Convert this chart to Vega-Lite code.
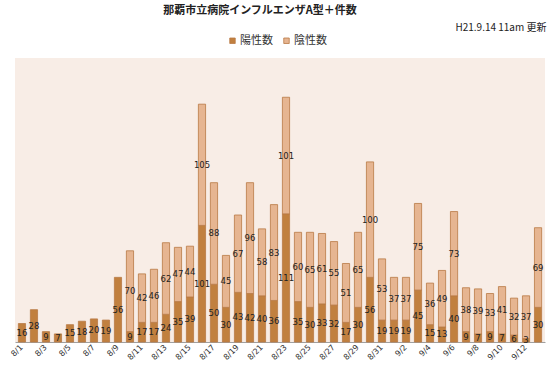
{
  "$schema": "https://vega.github.io/schema/vega-lite/v6.json",
  "width": 530,
  "height": 284,
  "autosize": "none",
  "padding": {"left": 15, "top": 58, "right": 5, "bottom": 30},
  "background": "#ffffff",
  "title": {
    "text": "那覇市立病院インフルエンザA型＋件数",
    "font": "Noto Sans CJK JP",
    "fontSize": 11,
    "fontWeight": "bold",
    "color": "#222222",
    "anchor": "middle",
    "frame": "group",
    "dx": -20,
    "offset": 6
  },
  "config": {
    "view": {"fill": "#F8EDE6", "stroke": null},
    "font": "DejaVu Sans"
  },
  "data": {
    "values": [
      {"date": "8/1", "type": "陽性数", "count": 16},
      {"date": "8/2", "type": "陽性数", "count": 28},
      {"date": "8/3", "type": "陽性数", "count": 9},
      {"date": "8/4", "type": "陽性数", "count": 7},
      {"date": "8/5", "type": "陽性数", "count": 15},
      {"date": "8/6", "type": "陽性数", "count": 18},
      {"date": "8/7", "type": "陽性数", "count": 20},
      {"date": "8/8", "type": "陽性数", "count": 19},
      {"date": "8/9", "type": "陽性数", "count": 56},
      {"date": "8/10", "type": "陽性数", "count": 9},
      {"date": "8/10", "type": "陰性数", "count": 70},
      {"date": "8/11", "type": "陽性数", "count": 17},
      {"date": "8/11", "type": "陰性数", "count": 42},
      {"date": "8/12", "type": "陽性数", "count": 17},
      {"date": "8/12", "type": "陰性数", "count": 46},
      {"date": "8/13", "type": "陽性数", "count": 24},
      {"date": "8/13", "type": "陰性数", "count": 62},
      {"date": "8/14", "type": "陽性数", "count": 35},
      {"date": "8/14", "type": "陰性数", "count": 47},
      {"date": "8/15", "type": "陽性数", "count": 39},
      {"date": "8/15", "type": "陰性数", "count": 44},
      {"date": "8/16", "type": "陽性数", "count": 101},
      {"date": "8/16", "type": "陰性数", "count": 105},
      {"date": "8/17", "type": "陽性数", "count": 50},
      {"date": "8/17", "type": "陰性数", "count": 88},
      {"date": "8/18", "type": "陽性数", "count": 30},
      {"date": "8/18", "type": "陰性数", "count": 45},
      {"date": "8/19", "type": "陽性数", "count": 43},
      {"date": "8/19", "type": "陰性数", "count": 67},
      {"date": "8/20", "type": "陽性数", "count": 42},
      {"date": "8/20", "type": "陰性数", "count": 96},
      {"date": "8/21", "type": "陽性数", "count": 40},
      {"date": "8/21", "type": "陰性数", "count": 58},
      {"date": "8/22", "type": "陽性数", "count": 36},
      {"date": "8/22", "type": "陰性数", "count": 83},
      {"date": "8/23", "type": "陽性数", "count": 111},
      {"date": "8/23", "type": "陰性数", "count": 101},
      {"date": "8/24", "type": "陽性数", "count": 35},
      {"date": "8/24", "type": "陰性数", "count": 60},
      {"date": "8/25", "type": "陽性数", "count": 30},
      {"date": "8/25", "type": "陰性数", "count": 65},
      {"date": "8/26", "type": "陽性数", "count": 33},
      {"date": "8/26", "type": "陰性数", "count": 61},
      {"date": "8/27", "type": "陽性数", "count": 32},
      {"date": "8/27", "type": "陰性数", "count": 55},
      {"date": "8/28", "type": "陽性数", "count": 17},
      {"date": "8/28", "type": "陰性数", "count": 51},
      {"date": "8/29", "type": "陽性数", "count": 30},
      {"date": "8/29", "type": "陰性数", "count": 65},
      {"date": "8/30", "type": "陽性数", "count": 56},
      {"date": "8/30", "type": "陰性数", "count": 100},
      {"date": "8/31", "type": "陽性数", "count": 19},
      {"date": "8/31", "type": "陰性数", "count": 53},
      {"date": "9/1", "type": "陽性数", "count": 19},
      {"date": "9/1", "type": "陰性数", "count": 37},
      {"date": "9/2", "type": "陽性数", "count": 19},
      {"date": "9/2", "type": "陰性数", "count": 37},
      {"date": "9/3", "type": "陽性数", "count": 45},
      {"date": "9/3", "type": "陰性数", "count": 75},
      {"date": "9/4", "type": "陽性数", "count": 15},
      {"date": "9/4", "type": "陰性数", "count": 36},
      {"date": "9/5", "type": "陽性数", "count": 13},
      {"date": "9/5", "type": "陰性数", "count": 49},
      {"date": "9/6", "type": "陽性数", "count": 40},
      {"date": "9/6", "type": "陰性数", "count": 73},
      {"date": "9/7", "type": "陽性数", "count": 9},
      {"date": "9/7", "type": "陰性数", "count": 38},
      {"date": "9/8", "type": "陽性数", "count": 7},
      {"date": "9/8", "type": "陰性数", "count": 39},
      {"date": "9/9", "type": "陽性数", "count": 9},
      {"date": "9/9", "type": "陰性数", "count": 33},
      {"date": "9/10", "type": "陽性数", "count": 7},
      {"date": "9/10", "type": "陰性数", "count": 41},
      {"date": "9/11", "type": "陽性数", "count": 6},
      {"date": "9/11", "type": "陰性数", "count": 32},
      {"date": "9/12", "type": "陽性数", "count": 3},
      {"date": "9/12", "type": "陰性数", "count": 37},
      {"date": "9/13", "type": "陽性数", "count": 30},
      {"date": "9/13", "type": "陰性数", "count": 69}
    ]
  },
  "transform": [
    {"stack": "count", "groupby": ["date"], "sort": [{"field": "type", "order": "descending"}], "as": ["y0", "y1"]},
    {"calculate": "(datum.y0 + datum.y1) / 2", "as": "ymid"}
  ],
  "encoding": {
    "x": {
      "field": "date",
      "type": "ordinal",
      "sort": null,
      "scale": {"paddingInner": 0.4, "paddingOuter": 0.28},
      "axis": {
        "title": null,
        "values": ["8/1","8/3","8/5","8/7","8/9","8/11","8/13","8/15","8/17","8/19","8/21","8/23","8/25","8/27","8/29","8/31","9/2","9/4","9/6","9/8","9/10","9/12"],
        "labelAngle": -45,
        "labelAlign": "right",
        "labelBaseline": "middle",
        "labelFontSize": 8,
        "labelColor": "#333333",
        "labelPadding": 4,
        "ticks": false,
        "domainColor": "#A0A0A0",
        "domainWidth": 1
      }
    }
  },
  "layer": [
    {
      "mark": {"type": "bar", "stroke": "#B97A45", "strokeWidth": 0.8},
      "encoding": {
        "y": {
          "field": "y0",
          "type": "quantitative",
          "scale": {"domain": [0, 246], "nice": false},
          "axis": {
            "orient": "right",
            "title": "H21.9.14 11am 更新",
            "titleFont": "Noto Sans CJK JP",
            "titleFontSize": 10,
            "titleFontWeight": "normal",
            "titleColor": "#222222",
            "titleAngle": 0,
            "titleAlign": "right",
            "titleBaseline": "middle",
            "titleX": 1,
            "titleY": -31,
            "labels": false,
            "ticks": false,
            "domain": false,
            "grid": false
          }
        },
        "y2": {"field": "y1"},
        "color": {
          "field": "type",
          "type": "nominal",
          "scale": {"domain": ["陽性数", "陰性数"], "range": ["#C1803F", "#E6B591"]},
          "legend": {
            "title": null,
            "orient": "none",
            "direction": "horizontal",
            "legendX": 212,
            "legendY": -23,
            "symbolType": "square",
            "symbolSize": 30,
            "symbolStrokeColor": "#B97A45",
            "symbolStrokeWidth": 0.8,
            "labelFont": "Noto Sans CJK JP",
            "labelFontSize": 11,
            "labelOffset": 2,
            "labelColor": "#333333",
            "columnPadding": 8
          }
        }
      }
    },
    {
      "mark": {"type": "text", "fontSize": 8.5, "color": "#222222"},
      "encoding": {
        "y": {"field": "ymid", "type": "quantitative"},
        "text": {"field": "count", "type": "quantitative"}
      }
    }
  ]
}
